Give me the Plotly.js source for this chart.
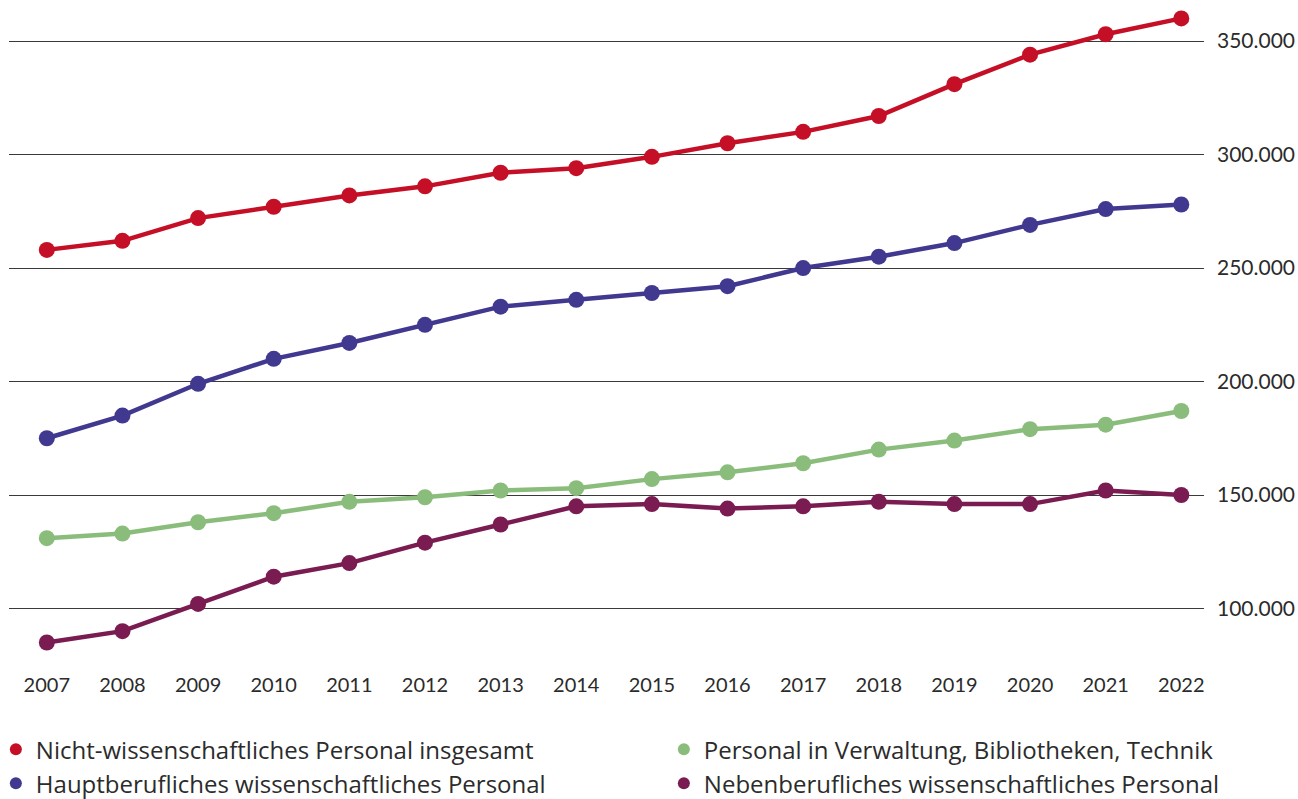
<!DOCTYPE html>
<html>
<head>
<meta charset="utf-8">
<script src="https://cdn.plot.ly/plotly-3.0.1.min.js"></script>
<style>html,body{margin:0;padding:0;background:#fff;}#chart{width:1298px;height:799px;}</style>
</head>
<body>
<div id="chart"></div>
<script>
const years = [2007,2008,2009,2010,2011,2012,2013,2014,2015,2016,2017,2018,2019,2020,2021,2022];
const nichtWiss = [258000,262000,272000,277000,282000,286000,292000,294000,299000,305000,310000,317000,331000,344000,353000,360000];
const verwaltung = [131000,133000,138000,142000,147000,149000,152000,153000,157000,160000,164000,170000,174000,179000,181000,187000];
const hauptberuf = [175000,185000,199000,210000,217000,225000,233000,236000,239000,242000,250000,255000,261000,269000,276000,278000];
const nebenberuf = [85000,90000,102000,114000,120000,129000,137000,145000,146000,144000,145000,147000,146000,146000,152000,150000];
const yTicks = [100000,150000,200000,250000,300000,350000];
const seriesNames = ['Nicht-wissenschaftliches Personal insgesamt','Hauptberufliches wissenschaftliches Personal','Personal in Verwaltung, Bibliotheken, Technik','Nebenberufliches wissenschaftliches Personal'];
const seriesValues = [nichtWiss, hauptberuf, verwaltung, nebenberuf];
const seriesColors = ['#c50f26','#413890','#8abd7c','#7a1b51'];
const seriesLegend = ['legend','legend','legend2','legend2'];

const data = [];
seriesValues.forEach((vals, i) => {
  data.push({x: years, y: vals, name: seriesNames[i], type: 'scatter', mode: 'lines+markers',
    line: {color: seriesColors[i], width: 4.5}, marker: {color: seriesColors[i], size: 16},
    showlegend: false, hoverinfo: 'x+y'});
});
seriesValues.forEach((vals, i) => {
  data.push({x: [null], y: [null], name: seriesNames[i], type: 'scatter', mode: 'markers',
    marker: {color: seriesColors[i], size: 17}, showlegend: true, legend: seriesLegend[i], hoverinfo: 'skip'});
});
const ff = 'Lato, "Source Sans Pro", sans-serif';
const lf = {family: '"Open Sans", sans-serif', size: 24, color: '#2b2b2b'};
const layout = {
  width: 1298, height: 799,
  margin: {l: 9, r: 94, t: 5, b: 134, autoexpand: false},
  paper_bgcolor: '#fff', plot_bgcolor: '#fff',
  separators: ',.',
  font: {family: ff, color: '#2b2b2b'},
  showlegend: true,
  legend: {orientation: 'v', x: -0.011, xanchor: 'left', y: -0.094, yanchor: 'top',
    traceorder: 'normal', font: lf, itemsizing: 'constant', bgcolor: 'rgba(0,0,0,0)'},
  legend2: {orientation: 'v', x: 0.548, xanchor: 'left', y: -0.094, yanchor: 'top',
    traceorder: 'normal', font: lf, itemsizing: 'constant', bgcolor: 'rgba(0,0,0,0)'},
  xaxis: {type: 'linear', range: [2006.5, 2022.3], tickvals: years, ticktext: years.map(String),
    showgrid: false, zeroline: false, showline: false, ticks: '',
    ticklabelstandoff: 6, tickfont: {size: 20, color: '#2b2b2b'}},
  yaxis: {side: 'right', range: [75100, 365900], tickvals: yTicks, tickformat: ',d',
    showgrid: true, gridcolor: '#3a3a3a', gridwidth: 1, zeroline: false, showline: false,
    ticks: '', ticklabelstandoff: 12, tickfont: {size: 21, color: '#2b2b2b'}}
};
Plotly.newPlot('chart', data, layout, {displayModeBar: false});
</script>
</body>
</html>
